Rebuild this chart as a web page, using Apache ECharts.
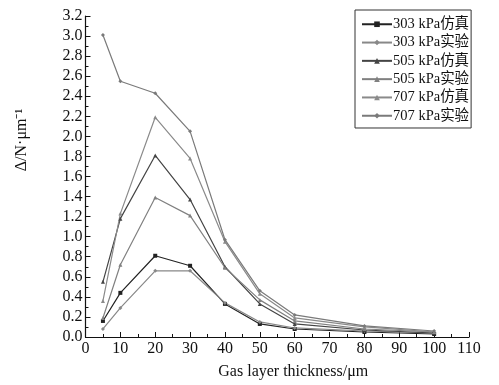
<!DOCTYPE html>
<html>
<head>
<meta charset="utf-8">
<script src="https://cdn.jsdelivr.net/npm/echarts@6/dist/echarts.min.js"></script>
<style>
  html, body { margin: 0; padding: 0; background: #fff; }
  #chart { width: 499px; height: 385px; }
</style>
</head>
<body>
<div id="chart"></div>
<script>
const thickness = [5, 10, 20, 30, 40, 50, 60, 80, 100];

const sim303 = [0.16, 0.44, 0.81, 0.71, 0.33, 0.13, 0.08, 0.05, 0.03];
const exp303 = [0.08, 0.29, 0.66, 0.66, 0.34, 0.15, 0.09, 0.06, 0.04];
const sim505 = [0.55, 1.18, 1.81, 1.37, 0.70, 0.33, 0.13, 0.07, 0.04];
const exp505 = [0.19, 0.72, 1.39, 1.21, 0.69, 0.37, 0.16, 0.08, 0.05];
const sim707 = [0.36, 1.23, 2.19, 1.78, 0.95, 0.43, 0.19, 0.10, 0.05];
const exp707 = [3.01, 2.55, 2.43, 2.05, 0.97, 0.46, 0.22, 0.11, 0.06];

const seriesNames = [
  "303 kPa仿真", "303 kPa实验", "505 kPa仿真",
  "505 kPa实验", "707 kPa仿真", "707 kPa实验",
];
const seriesValues = [sim303, exp303, sim505, exp505, sim707, exp707];
const seriesColors = ["#222", "#888", "#444", "#808080", "#8a8a8a", "#7a7a7a"];
const seriesSymbols = ["rect", "diamond", "triangle", "triangle", "triangle", "diamond"];

const font = "'Liberation Serif', 'Noto Sans CJK SC', serif";

const chart = echarts.init(document.getElementById("chart"));

chart.setOption({
  animation: false,
  backgroundColor: "#fff",
  grid: { left: 85.5, right: 30, top: 16, bottom: 48 },
  legend: {
    orient: "vertical",
    left: 355,
    top: 10,
    width: 115,
    padding: [7, 2, 5, 6],
    itemWidth: 30,
    itemHeight: 7,
    itemGap: 3.8,
    borderColor: "#333",
    borderWidth: 1,
    backgroundColor: "#fff",
    textStyle: {
      fontFamily: font, fontSize: 14.5, lineHeight: 14, color: "#111",
      padding: [0, 0, 0, -4],
    },
    data: seriesNames.map((n) => ({ name: n })),
  },
  graphic: [
    {
      type: "text",
      x: 22,
      y: 140,
      rotation: Math.PI / 2,
      style: {
        text: "Δ/N·μm⁻¹",
        font: "16px " + font,
        fill: "#111",
        align: "center",
        verticalAlign: "middle",
      },
    },
  ],
  xAxis: {
    type: "value",
    min: 0,
    max: 110,
    interval: 10,
    name: "Gas layer thickness/μm",
    nameLocation: "middle",
    nameGap: 27,
    nameTextStyle: { fontFamily: font, fontSize: 16, color: "#111", padding: [0, 0, 0, 32] },
    axisLine: { lineStyle: { color: "#111", width: 1.2 } },
    axisTick: { inside: true, length: 5, lineStyle: { color: "#111" } },
    minorTick: { show: true, splitNumber: 2, length: 3, lineStyle: { color: "#111" } },
    axisLabel: { fontFamily: font, fontSize: 16, color: "#111", margin: 4 },
    splitLine: { show: false },
  },
  yAxis: {
    type: "value",
    min: 0,
    max: 3.2,
    interval: 0.2,
    axisLine: { show: true, lineStyle: { color: "#111", width: 1.2 } },
    axisTick: { inside: true, length: 5, lineStyle: { color: "#111" } },
    minorTick: { show: true, splitNumber: 2, length: 3, lineStyle: { color: "#111" } },
    axisLabel: {
      fontFamily: font, fontSize: 16, color: "#111", margin: 3,
      formatter: (v) => v.toFixed(1),
    },
    splitLine: { show: false },
  },
  series: seriesNames.map((name, i) => ({
    name,
    type: "line",
    data: thickness.map((x, j) => [x, seriesValues[i][j]]),
    symbol: seriesSymbols[i],
    symbolSize: 4,
    lineStyle: { width: 1.2, color: seriesColors[i] },
    itemStyle: { color: seriesColors[i] },
  })),
});
</script>
</body>
</html>
